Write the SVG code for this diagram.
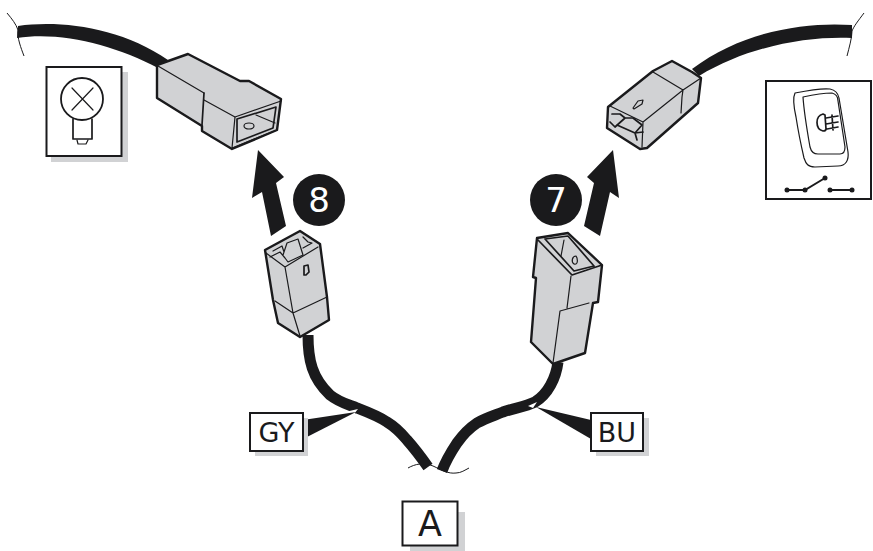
<svg xmlns="http://www.w3.org/2000/svg" width="873" height="551" viewBox="0 0 873 551">
<style>
.body{fill:#d1d2d4;stroke:#1a1a1c;stroke-width:2.4;stroke-linejoin:round}
.ln{fill:none;stroke:#1a1a1c;stroke-width:1.2;stroke-linejoin:round;stroke-linecap:round}
.ln2{fill:none;stroke:#1a1a1c;stroke-width:1.7;stroke-linejoin:round;stroke-linecap:round}
.wire{fill:#1a1a1c}
.cable{fill:none;stroke:#1a1a1c;stroke-width:11}
.thin{fill:none;stroke:#1a1a1c;stroke-width:1}
.box{fill:#fff;stroke:#1a1a1c;stroke-width:2}
.shadow{fill:#d1d2d4}
.lab{font-family:"DejaVu Sans",Verdana,sans-serif;fill:#1a1a1c;text-anchor:middle}
.num{font-family:"DejaVu Sans",Verdana,sans-serif;fill:#fff;text-anchor:middle;font-size:34px}
.arrow{fill:#1a1a1c}
</style>
<g id="connectors">
<path class="wire" d="M18,26 C60,20 120,27 168,60 L158,68 C115,45 60,31 17,38 Z"/>
<path class="thin" d="M7,13 C12,19 16,24 18,30 C17,38 21,48 24,56"/>
<path class="wire" d="M852,25 C810,22 745,29 692,69 L699,76 C750,45 810,36 852,38 Z"/>
<path class="thin" d="M864,13 C858,21 854,26 852,31 C852,38 849,48 847,56"/>
<path class="cable" d="M308,335 C308,360 312,378 330,395 C340,403 350,405 357,408 C370,413 378,416 387,422 C397,428 402,434 407,440 C415,449 421,457 428,467"/>
<path class="cable" d="M558,362 C556,378 548,394 535,402 C525,407 514,408 503,412 C493,416 486,418 477,423 C468,429 462,436 457,443 C451,452 446,460 442,471"/>
<path class="thin" d="M408,468 C415,464 424,462 433,466 C442,470 448,474 456,473 C461,473 465,470 469,468"/>
<path d="M345,412 L358,409 L354,414 Z" fill="#fff"/>
<path d="M528,406 L537,402 L533,408 Z" fill="#fff"/>
<path class="arrow" d="M356,412 L303,420 L303,439 Z"/>
<path class="arrow" d="M536,407 L591,420 L591,439 Z"/>
<path id="arrow-8" class="arrow" d="M258,150 L284,177 L276,183 L286,226 L271,236 L262,192 L252,198 Z"/>
<path id="arrow-7" class="arrow" d="M613,150 L587,177 L594,183 L584,226 L600,236 L610,192 L619,198 Z"/>
</g>
<g id="node-bulb-connector">
<path class="body" d="M157,65 L188,54 L240,81 L249,81 L281,99 L277,130 L232,149 L202,131 L202,126 L157,98 Z"/>
<path class="ln" d="M158,66 L204,93 M204,100 L235,117 L281,101"/>
<path class="ln2" d="M204,93 L202,125"/>
<path class="ln" d="M235,117 L232,148 L277,130 M256,115 L275,123"/>
<path class="ln2" d="M237,119 L276,107 L273,128 L237,142 Z"/>
<ellipse class="ln" cx="249" cy="126" rx="5" ry="3"/>
</g>
<g id="node-bulb-icon">
<rect class="shadow" x="51" y="72" width="77" height="90"/>
<rect class="box" x="46.500" y="67" width="75" height="89"/>
<circle cx="82" cy="99" r="21" fill="#fff" stroke="#1a1a1c" stroke-width="1.800"/>
<path class="ln" d="M72,88 L93,110 M93,88 L72,110"/>
<path class="ln2" d="M73,119 L73,139 L92,139 L92,119"/>
<path class="ln" d="M77,140 L78,144 L86,144 L88,140"/>
</g>
<g id="node-switch-connector">
<path class="body" d="M608,107 L653,71 L672,61 L692,72 L701,78 L698,103 L647,148 L640,149 L607,128 Z"/>
<path class="ln" d="M653,72 L683,90 L701,78 M610,106 L643,122 L683,90 L682,97 L681,113 M643,122 L642,147"/>
<path class="ln2" d="M612,114 L620,114 L625,118 L615,127 L610,122 M625,118 L633,118 L642,125 L635,133 L617,125 M635,133 L643,132 M635,133 L637,140"/>
<path class="ln" d="M633,108 L638,101 L643,100 L642,104 L634,109 Z"/>
</g>
<g id="node-switch-icon">
<rect class="box" x="766" y="81" width="105" height="118"/>
<path class="ln" d="M796,117 C794,108 793,97 795,93 C805,91 822,88 830,89 C835,90 838,93 839,98 L848,152 C849,160 846,166 838,166 L815,167 C808,167 806,164 804,158 C801,145 798,130 796,117 Z"/>
<path class="ln" d="M803,97 C812,95 822,93 832,93 C836,94 838,97 838,101 L845,147 C845,151 844,154 840,154 L818,154 C813,154 811,151 810,147 C807,130 804,112 803,97 Z"/>
<path class="ln2" d="M823,114 C815,116 815,129 823,131 C825,131 826,130 826,129 L825,115 Z M826,118 L838,116 M826,124 L838,122 M827,129 L838,127 M832,115 L833,130"/>
<path d="M787,190 L805,190 L825,178 M830,190 L852,190" fill="none" stroke="#1a1a1c" stroke-width="2"/>
<circle cx="787" cy="190" r="2.500" fill="#1a1a1c"/><circle cx="805" cy="190" r="2.500" fill="#1a1a1c"/><circle cx="825" cy="178" r="2.500" fill="#1a1a1c"/><circle cx="830" cy="190" r="2.500" fill="#1a1a1c"/><circle cx="852" cy="190" r="2.500" fill="#1a1a1c"/>
</g>
<g id="node-connector-8">
<path class="body" d="M265,250 L300,231 L320,244 L327,297 L329,320 L300,337 L278,323 L273,300 Z"/>
<path class="ln" d="M266,253 L285,267 L318,247 M285,267 L293,313 L327,297 M275,301 L293,313 L300,336"/>
<path class="ln" d="M273,251 L282,246 L284,252 M287,243 L298,239 L303,255 L288,262 L285,258 L280,252 L270,257 M283,255 L287,243 M303,237 L308,242 L312,243 L303,248"/>
<path class="ln2" d="M304,266 L308,265 L309,272 L306,275 L304,275 Z"/>
</g>
<g id="node-connector-7">
<path class="body" d="M537,238 L568,233 L602,265 L598,302 L593,303 L585,353 L553,364 L531,342 L536,278 L533,277 Z"/>
<path class="ln2" d="M545,239 L568,236 L594,266 L574,271 Z M538,240 L572,275 L602,265"/>
<path class="ln" d="M571,276 L567,308 M553,363 L560,311 L589,303 M564,240 L561,256"/>
<path class="ln" d="M576,256 C572,256 571,262 574,264 C577,265 578,262 577,258 Z"/>
</g>
<g id="node-badge-8"><circle cx="319" cy="200" r="26" fill="#1a1a1c"/><text class="num" x="319" y="212">8</text></g>
<g id="node-badge-7"><circle cx="556" cy="200" r="26" fill="#1a1a1c"/><text class="num" x="556" y="212">7</text></g>
<g id="node-gy">
<rect class="shadow" x="255" y="418" width="53" height="38"/>
<rect class="box" x="250" y="413" width="53" height="38"/>
<text class="lab" x="276.500" y="442" font-size="27">GY</text>
</g>
<g id="node-bu">
<rect class="shadow" x="596" y="418" width="53" height="38"/>
<rect class="box" x="591" y="413" width="52" height="38"/>
<text class="lab" x="617" y="442" font-size="27">BU</text>
</g>
<g id="node-a">
<rect class="shadow" x="410" y="512" width="55" height="39"/>
<rect class="box" x="402.500" y="501.500" width="55" height="44"/>
<text class="lab" x="430" y="536" font-size="35">A</text>
</g>
</svg>
